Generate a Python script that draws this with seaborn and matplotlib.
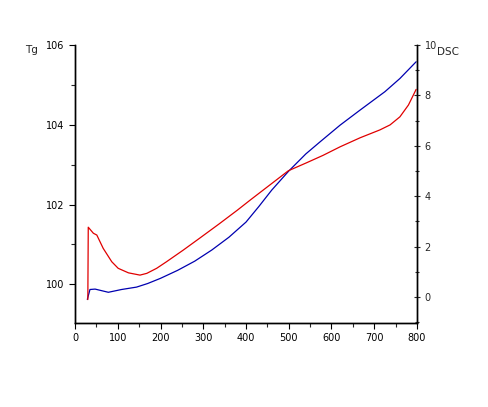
import numpy as np
import pandas as pd
from matplotlib import pyplot as plt
from matplotlib.ticker import MultipleLocator
import seaborn as sns

# Tg curve (blue, left axis)
tg_x = [28.8, 35, 47, 78, 109, 144, 170, 200, 240, 280, 320, 360, 400, 430,
        460, 500, 540, 573, 620, 667, 725, 760, 798]
tg_y = [99.62, 99.87, 99.88, 99.80, 99.87, 99.93, 100.02, 100.15, 100.35, 100.58,
        100.86, 101.18, 101.56, 101.95, 102.36, 102.84, 103.27, 103.57, 103.99,
        104.37, 104.83, 105.16, 105.58]

# DSC curve (red, right axis)
dsc_x = [30, 31, 43, 51, 66, 86, 101, 125, 152, 168, 191, 214, 253, 292, 337,
         380, 410, 433, 466, 499, 542, 580, 620, 667, 713, 737, 760, 780, 798]
dsc_y = [-0.1, 2.77, 2.53, 2.46, 1.93, 1.40, 1.14, 0.96, 0.87, 0.94, 1.14, 1.40,
         1.86, 2.34, 2.90, 3.45, 3.85, 4.15, 4.58, 5.01, 5.33, 5.62, 5.96, 6.32,
         6.63, 6.83, 7.15, 7.62, 8.24]

df_tg = pd.DataFrame({'T': tg_x, 'Tg': tg_y})
df_dsc = pd.DataFrame({'T': dsc_x, 'DSC': dsc_y})

sns.set_style('ticks')
plt.rcParams['font.family'] = ['DejaVu Sans']

fig = plt.figure(figsize=(4.88, 4.07), dpi=100)
ax = fig.add_axes([0.1537, 0.2064, 0.7008, 0.683])
ax2 = ax.twinx()

sns.lineplot(data=df_tg, x='T', y='Tg', ax=ax, color='#0000b0', lw=0.9, sort=False)
sns.lineplot(data=df_dsc, x='T', y='DSC', ax=ax2, color='#e00000', lw=0.9, sort=False)

ax.set_xlim(0, 800)
ax.set_ylim(99.03, 106)
ax2.set_ylim(-1.03, 10)

ax.xaxis.set_major_locator(MultipleLocator(100))
ax.xaxis.set_minor_locator(MultipleLocator(50))
ax.yaxis.set_major_locator(MultipleLocator(2))
ax.yaxis.set_minor_locator(MultipleLocator(1))
ax2.yaxis.set_major_locator(MultipleLocator(2))
ax2.yaxis.set_minor_locator(MultipleLocator(1))

for a in (ax, ax2):
    a.set_xlabel('')
    a.set_ylabel('')
    a.spines['top'].set_visible(False)
    for s in a.spines.values():
        s.set_linewidth(1.0)
        s.set_color('black')

ax.tick_params(axis='both', which='major', labelsize=7, length=4, width=0.8, direction='out', colors='black')
ax.tick_params(axis='both', which='minor', length=3, width=0.8, direction='out')
ax2.tick_params(axis='y', which='major', labelsize=7, length=4, width=0.8, direction='inout')
ax2.tick_params(axis='y', which='minor', length=3, width=0.8, direction='inout')

fig.text(25 / 488, 1 - 50 / 407, 'Tg', fontsize=7.5, ha='left', va='center')
fig.text(437 / 488, 1 - 52 / 407, 'DSC', fontsize=7.5, ha='left', va='center')

fig.savefig('out.png', dpi=100)
